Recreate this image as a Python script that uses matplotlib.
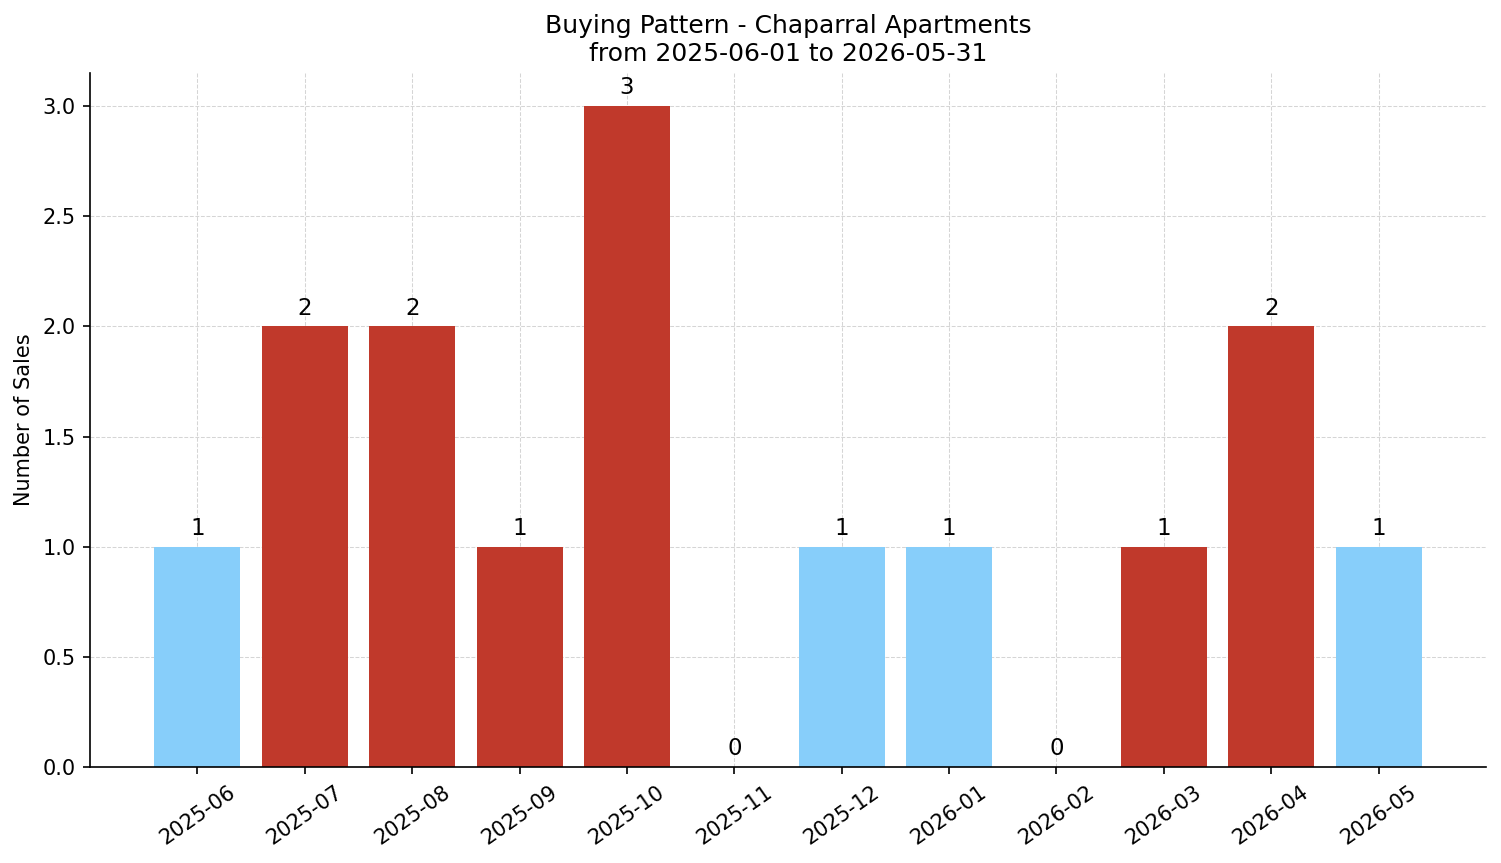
import matplotlib.pyplot as plt
import numpy as np

months = ['2025-06', '2025-07', '2025-08', '2025-09', '2025-10', '2025-11',
          '2025-12', '2026-01', '2026-02', '2026-03', '2026-04', '2026-05']
sales = [1, 2, 2, 1, 3, 0, 1, 1, 0, 1, 2, 1]
bar_colors = ['#87cefa', '#c0392b', '#c0392b', '#c0392b', '#c0392b', '#c0392b',
              '#87cefa', '#87cefa', '#c0392b', '#c0392b', '#c0392b', '#87cefa']

fig, ax = plt.subplots(figsize=(1501 / 150, 863 / 150), dpi=150)
x = np.arange(len(months))
ax.bar(x, sales, width=0.8, color=bar_colors, zorder=2)

for xi, s in zip(x, sales):
    ax.text(xi, s + 0.03, str(s), ha='center', va='bottom', fontsize=11)

ax.set_xticks(x)
ax.set_xticklabels(months, rotation=35, fontsize=10)
ax.tick_params(axis='y', labelsize=10)
ax.set_xlim(-1, 12)
ax.set_ylabel('Number of Sales', fontsize=10)
ax.set_title('Buying Pattern - Chaparral Apartments\nfrom 2025-06-01 to 2026-05-31', fontsize=12)
ax.grid(True, linestyle='--', linewidth=0.5, color='#d5d5d5', zorder=0)
ax.spines['top'].set_visible(False)
ax.spines['right'].set_visible(False)

plt.subplots_adjust(left=0.06, right=0.99, top=0.9154, bottom=0.1112)
plt.savefig('out.png', dpi=150)
